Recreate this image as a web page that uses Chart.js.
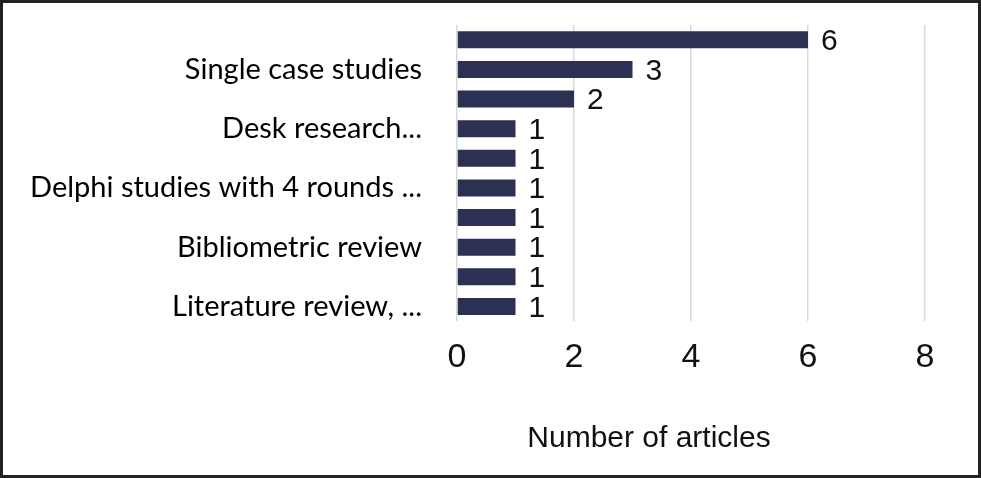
<!DOCTYPE html>
<html>
<head>
<meta charset="utf-8">
<script src="https://cdn.jsdelivr.net/npm/chart.js@4/dist/chart.umd.min.js"></script>
<style>
	html, body { margin: 0; padding: 0; background: #fff; }
	.frame {
		width: 981px;
		height: 478px;
		box-sizing: border-box;
		border: 3px solid #222;
		background: #fff;
	}
	.chartBox { position: relative; width: 975px; height: 472px; }
</style>
</head>
<body>
<div class="frame">
	<div class="chartBox"><canvas id="methodsChart"></canvas></div>
</div>
<script>
// categories top to bottom; only every other label is readable in the source
const categories = [
	'',
	'Single case studies',
	'',
	'Desk research...',
	'',
	'Delphi studies with 4 rounds ...',
	'',
	'Bibliometric review',
	'',
	'Literature review, ...'
];
const articleCounts = [6, 3, 2, 1, 1, 1, 1, 1, 1, 1];
const xTicks = [0, 2, 4, 6, 8];
const xTitle = 'Number of articles';

const arial = '"Liberation Sans", Arial, sans-serif';

// draws the count just past the end of each bar
const valueLabels = {
	id: 'valueLabels',
	afterDatasetsDraw(chart) {
		const ctx = chart.ctx;
		const meta = chart.getDatasetMeta(0);
		ctx.save();
		ctx.font = '30px ' + arial;
		ctx.fillStyle = '#111';
		ctx.textAlign = 'left';
		ctx.textBaseline = 'middle';
		meta.data.forEach((bar, i) => {
			ctx.fillText(String(articleCounts[i]), bar.x + 13, bar.y + 2);
		});
		ctx.restore();
	}
};

// axis title sits a bit left of the plot centre in the original
const axisTitle = {
	id: 'axisTitle',
	afterDraw(chart) {
		const ctx = chart.ctx;
		const x = chart.scales.x;
		ctx.save();
		ctx.font = '30px ' + arial;
		ctx.fillStyle = '#111';
		ctx.textAlign = 'center';
		ctx.textBaseline = 'middle';
		ctx.fillText(xTitle, (x.left + x.right) / 2 - 42, x.bottom - 36);
		ctx.restore();
	}
};

new Chart(document.getElementById('methodsChart'), {
	type: 'bar',
	data: {
		labels: categories,
		datasets: [
			{
				label: xTitle,
				data: articleCounts,
				backgroundColor: '#2c3154',
				borderWidth: 0,
				barPercentage: 0.8,
				categoryPercentage: 0.716
			}
		]
	},
	options: {
		indexAxis: 'y',
		responsive: true,
		maintainAspectRatio: false,
		animation: false,
		layout: {
			padding: { top: 22, right: 53, bottom: 0, left: 0 }
		},
		scales: {
			x: {
				min: 0,
				max: 8,
				afterBuildTicks: (scale) => {
					scale.ticks = xTicks.map(v => ({ value: v }));
				},
				afterFit: (scale) => {
					scale.height = 153.7; // keeps plot bottom where the original has it
					scale.paddingLeft = 0;
					scale.paddingRight = 0;
				},
				grid: {
					color: '#d9d9d9',
					lineWidth: 1.5,
					drawTicks: false
				},
				border: { display: false },
				ticks: {
					color: '#111',
					padding: 16,
					font: { family: arial, size: 34 }
				}
			},
			y: {
				afterFit: (scale) => {
					scale.width = 454;
					scale.paddingTop = 0;
					scale.paddingBottom = 0;
				},
				grid: { display: false, drawTicks: false },
				border: { display: false },
				ticks: {
					autoSkip: false,
					color: '#000',
					padding: 35,
					font: { family: 'Lato, "Noto Sans", sans-serif', size: 29 }
				}
			}
		},
		plugins: {
			legend: { display: false },
			tooltip: { enabled: false }
		}
	},
	plugins: [valueLabels, axisTitle]
});
</script>
</body>
</html>
